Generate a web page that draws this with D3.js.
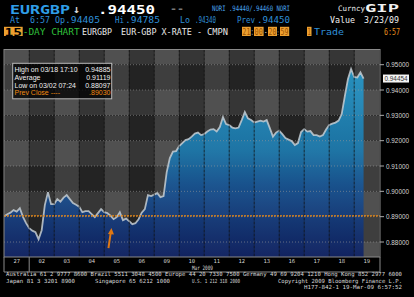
<!DOCTYPE html>
<html>
<head>
<meta charset="utf-8">
<script src="https://cdn.jsdelivr.net/npm/d3@7"></script>
<style>
  body { margin: 0; background: #000; }
  svg { display: block; }
  text { font-family: "Liberation Sans", Arial, sans-serif; }
  text.mono { font-family: "DejaVu Sans Mono", monospace; }
</style>
</head>
<body>
<div id="chart"></div>
<script>
// trading days shown on the 15-day chart
const days = ["27", "02", "03", "04", "05", "06", "09", "10", "11", "12", "13", "16", "17", "18", "19"];
const samplesPerDay = 8;
// EUR-GBP price, 8 samples per trading day
const prices = [
  0.89020, 0.89099, 0.89158, 0.89257, 0.89198, 0.89336, 0.88992, 0.88743,
  0.88545, 0.88447, 0.88387, 0.88110, 0.88466, 0.89455, 0.89968, 0.89494,
  0.89494, 0.89692, 0.89593, 0.89751, 0.89850, 0.89692, 0.89534, 0.89474,
  0.89395, 0.89178, 0.89217, 0.89217, 0.89099, 0.88980, 0.89138, 0.89296,
  0.89178, 0.89138, 0.89040, 0.88901, 0.88980, 0.89178, 0.88862, 0.88921,
  0.88822, 0.88704, 0.88743, 0.88901, 0.89158, 0.89296, 0.89850, 0.89810,
  0.89870, 0.89929, 0.89771, 0.89810, 0.90759, 0.91312, 0.91569, 0.91589,
  0.91787, 0.91905, 0.92024, 0.92063, 0.92162, 0.92281, 0.92320, 0.92221,
  0.92261, 0.92359, 0.92439, 0.92458, 0.92360, 0.92538, 0.92933, 0.92656,
  0.92617, 0.92518, 0.92486, 0.92518, 0.92814, 0.93130, 0.92881, 0.92814,
  0.92715, 0.92755, 0.92794, 0.92755, 0.92814, 0.92498, 0.92162, 0.92320,
  0.92399, 0.92261, 0.92103, 0.92043, 0.91984, 0.91826, 0.91905, 0.92340,
  0.92458, 0.92359, 0.92379, 0.92221, 0.92221, 0.92162, 0.92221, 0.92439,
  0.92617, 0.92676, 0.92715, 0.92794, 0.93051, 0.93763, 0.94435, 0.94830,
  0.94514, 0.94494, 0.94700, 0.94454
];
const yTicks = [0.95, 0.94, 0.93, 0.92, 0.91, 0.90, 0.89, 0.88];
const prevClose = 0.8903;
const lastPrice = 0.94454;
const statLabels = ["High on 03/18 17:10", "Average", "Low on 03/02 07:24", "Prev Close ----"];
const statValues = ["0.94885", "0.91119", "0.88097", ".89030"];
const arrowMark = [4.27, 0.8855];   // [day offset, price] of the orange note arrow
const monthLabel = "Mar 2009";

const W = 414, H = 297;
const plot = {left: 4, right: 380, top: 49.5, bottom: 257};

const svg = d3.select("#chart").append("svg")
  .attr("width", W).attr("height", H)
  .style("background", "#000");

const x = d3.scaleLinear().domain([0, days.length]).range([4.2, 379.2]);
const y = d3.scaleLinear().domain([0.88, 0.95]).range([242, 64.7]);

// ---- header rows
let hdr = [
  {t: "EURGBP", x: 10, y: 13.5, s: 12.5, c: "#2f9ee8", b: 1, w: 60},
  {t: "\u2193", x: 73, y: 13, s: 11, c: "#d8d8d8", b: 1, w: 7},
  {t: ".94450", x: 98, y: 13.5, s: 12.5, c: "#ffffff", b: 1, w: 57},
  {t: "--", x: 170, y: 12, s: 10, c: "#777", b: 1, w: 14},
  {t: "NORI .94440/.94460 NORI", x: 212, y: 11, s: 7.5, c: "#4aa6ee", b: 0, w: 78},
  {t: "Curncy", x: 338, y: 11, s: 7.5, c: "#f0f0f0", b: 0, w: 27},
  {t: "GIP", x: 365, y: 12, s: 11, c: "#f0f0f0", b: 1, w: 34},
  {t: "At", x: 10, y: 23, s: 8, c: "#2f8fd8", w: 10},
  {t: "6:57", x: 30, y: 23, s: 8, c: "#2f8fd8", w: 20},
  {t: "Op", x: 55, y: 23, s: 8, c: "#2f8fd8", w: 10},
  {t: ".94405", x: 65, y: 23, s: 8, c: "#2f8fd8", w: 35},
  {t: "Hi", x: 115, y: 23, s: 8, c: "#2f8fd8", w: 9},
  {t: ".94785", x: 125, y: 23, s: 8, c: "#2f8fd8", w: 35},
  {t: "Lo", x: 180, y: 23, s: 8, c: "#2f8fd8", w: 10},
  {t: ".94340", x: 195, y: 23, s: 8, c: "#2f8fd8", w: 21},
  {t: "Prev", x: 237, y: 23, s: 8, c: "#2f8fd8", w: 18},
  {t: ".94450", x: 257, y: 23, s: 8, c: "#2f8fd8", w: 33},
  {t: "Value", x: 330, y: 23, s: 8, c: "#f0f0f0", w: 25},
  {t: "3/23/09", x: 364, y: 23, s: 8, c: "#f0f0f0", w: 35},
  {t: "-DAY CHART", x: 22.7, y: 34.5, s: 8, c: "#2fbf3a", w: 57},
  {t: "EURGBP", x: 82, y: 34.5, s: 8, c: "#e8e8e8", w: 30},
  {t: "EUR-GBP X-RATE -", x: 121, y: 34.5, s: 8, c: "#e8e8e8", w: 81},
  {t: "CMPN", x: 207, y: 34.5, s: 8, c: "#e8e8e8", w: 21},
  {t: ":", x: 251.2, y: 34.5, s: 8, c: "#e8e8e8", w: 2},
  {t: "-", x: 264.3, y: 34.5, s: 8, c: "#e8e8e8", w: 3},
  {t: ":", x: 277.2, y: 34.5, s: 7, c: "#e8e8e8", w: 1.6},
  {t: "Trade", x: 314, y: 34.5, s: 8, c: "#2f8fd8", w: 30},
  {t: "6:57", x: 384, y: 34.5, s: 8, c: "#e8901e", w: 16}
];
// orange boxed fields
let boxes = [
  {t: "15", x: 4, w: 18.7, s: 11, b: 1, c: "#000"},
  {t: "21", x: 242, w: 8.8, s: 8, c: "#9a5200"},
  {t: "00", x: 254, w: 9.6, s: 8, c: "#9a5200"},
  {t: "20", x: 268, w: 9, s: 8, c: "#9a5200"},
  {t: "59", x: 280, w: 9.2, s: 8, c: "#9a5200"},
  {t: "1", x: 307, w: 4.5, s: 8, c: "#9a5200"}
];

let header = svg.append("g");
header.selectAll("rect.box").data(boxes).join("rect")
  .attr("x", d => d.x).attr("y", 26.8)
  .attr("width", d => d.w).attr("height", 9.2)
  .attr("fill", "#eda030");
header.selectAll("text.box").data(boxes).join("text")
  .attr("class", "mono")
  .attr("x", d => d.x + 0.6).attr("y", d => d.b ? 35.8 : 34.5)
  .attr("font-size", d => d.s).attr("font-weight", d => d.b ? "bold" : "normal")
  .attr("fill", d => d.c)
  .attr("textLength", d => d.w - 1.2).attr("lengthAdjust", "spacingAndGlyphs")
  .text(d => d.t);
header.selectAll("text.hdr").data(hdr).join("text")
  .attr("class", "mono")
  .attr("x", d => d.x).attr("y", d => d.y)
  .attr("font-size", d => d.s).attr("font-weight", d => d.b ? "bold" : "normal")
  .attr("fill", d => d.c)
  .attr("textLength", d => d.w).attr("lengthAdjust", "spacingAndGlyphs")
  .text(d => d.t);

// ---- checkerboard background (day columns x price bands)
let bandEdges = [plot.top].concat(yTicks.map(y)).concat([plot.bottom]);
let cells = [];
days.forEach((d, i) => {
  for (let r = 0; r < bandEdges.length - 1; r++) {
    cells.push({i: i, r: r, y0: bandEdges[r], y1: bandEdges[r + 1]});
  }
});
let shade = function (c) {
  let lightCol = c.i % 2 === 0, lightRow = c.r % 2 === 0;
  if (lightCol) return lightRow ? "#505050" : "#3e3e3e";
  return lightRow ? "#363636" : "#232323";
};
let bg = svg.append("g");
bg.selectAll("rect").data(cells).join("rect")
  .attr("x", c => Math.max(plot.left, x(c.i)))
  .attr("y", c => c.y0)
  .attr("width", c => Math.min(plot.right, x(c.i + 1)) - Math.max(plot.left, x(c.i)))
  .attr("height", c => c.y1 - c.y0)
  .attr("fill", shade);

// ---- price area
let defs = svg.append("defs");
let grad = defs.append("linearGradient").attr("id", "fill")
  .attr("gradientUnits", "userSpaceOnUse")
  .attr("x1", 0).attr("x2", 0).attr("y1", y(0.95)).attr("y2", plot.bottom);
[[0, "#28a4d8"], [0.45, "#1a7eb6"], [0.62, "#175a9e"], [0.8, "#123c82"], [1, "#0b1f66"]]
  .forEach(s => grad.append("stop").attr("offset", s[0]).attr("stop-color", s[1]));
defs.append("clipPath").attr("id", "clip").append("rect")
  .attr("x", plot.left).attr("y", plot.top)
  .attr("width", plot.right - plot.left).attr("height", plot.bottom - plot.top);

let tOf = (d, i) => x(i / samplesPerDay);
let area = d3.area().x(tOf).y0(plot.bottom).y1(d => y(d));
let line = d3.line().x(tOf).y(d => y(d));

let chart = svg.append("g").attr("clip-path", "url(#clip)");
chart.append("path").datum(prices)
  .attr("d", area).attr("fill", "url(#fill)").attr("fill-opacity", 0.86);
chart.append("path").datum(prices)
  .attr("d", line).attr("fill", "none")
  .attr("stroke", "#c4ccd2").attr("stroke-width", 1.8).attr("stroke-opacity", 0.85);

// day dividers
chart.selectAll("line.day").data(d3.range(1, days.length)).join("line")
  .attr("x1", x).attr("x2", x).attr("y1", plot.top).attr("y2", plot.bottom)
  .attr("stroke", "#111").attr("stroke-opacity", 0.75)
  .attr("stroke-dasharray", "3,1");

// horizontal grid
chart.selectAll("line.grid").data(yTicks).join("line")
  .attr("x1", plot.left).attr("x2", plot.right + 3)
  .attr("y1", y).attr("y2", y)
  .attr("stroke", "#9a9a9a").attr("stroke-opacity", 0.6)
  .attr("stroke-dasharray", "1,2");

// previous close
chart.append("line")
  .attr("x1", plot.left).attr("x2", plot.right)
  .attr("y1", y(prevClose)).attr("y2", y(prevClose))
  .attr("stroke", "#f08a10").attr("stroke-width", 1.4)
  .attr("stroke-dasharray", "2,1");

// note arrow
let ax = x(arrowMark[0]), ay = y(arrowMark[1]);
chart.append("path")
  .attr("d", `M${ax - 2.5},${ay + 20} L${ax},${ay + 3}`)
  .attr("stroke", "#e07812").attr("stroke-width", 2).attr("fill", "none");
chart.append("path")
  .attr("d", `M${ax + 0.5},${ay} L${ax - 3},${ay + 6} L${ax + 3},${ay + 6.5} Z`)
  .attr("fill", "#e07812");

// ---- frame
let frame = svg.append("g").attr("fill", "none").attr("stroke", "#8a8a8a");
frame.append("rect")
  .attr("x", plot.left).attr("y", plot.top)
  .attr("width", plot.right - plot.left).attr("height", plot.bottom - plot.top);
frame.append("path")
  .attr("d", `M${plot.left},${plot.bottom} V272 H${plot.right} V${plot.bottom}`);
frame.append("line")
  .attr("x1", x(1)).attr("x2", x(1)).attr("y1", plot.bottom).attr("y2", 272);

// ---- right axis
let axis = svg.append("g");
axis.selectAll("line").data(yTicks).join("line")
  .attr("x1", plot.right).attr("x2", plot.right + 4)
  .attr("y1", y).attr("y2", y).attr("stroke", "#aaa");
axis.selectAll("text").data(yTicks).join("text")
  .attr("x", 386).attr("y", d => y(d) + 2.5)
  .attr("font-size", 7).attr("fill", "#d4d4d4")
  .attr("textLength", 23).attr("lengthAdjust", "spacingAndGlyphs")
  .text(d => d.toFixed(5));
axis.append("rect")
  .attr("x", 383).attr("y", y(lastPrice) - 4).attr("width", 26).attr("height", 8)
  .attr("fill", "#f4f4f4");
axis.append("text")
  .attr("x", 384.5).attr("y", y(lastPrice) + 2.5)
  .attr("font-size", 7).attr("fill", "#333")
  .attr("textLength", 23).attr("lengthAdjust", "spacingAndGlyphs")
  .text(lastPrice.toFixed(5));

// ---- day labels
svg.append("g").selectAll("text").data(days).join("text")
  .attr("class", "mono")
  .attr("x", (d, i) => x(i + 0.5)).attr("y", 263)
  .attr("text-anchor", "middle")
  .attr("font-size", 5.5).attr("fill", "#d0d0d0")
  .text(d => d);
svg.append("text").attr("class", "mono")
  .attr("x", 192).attr("y", 270)
  .attr("font-size", 6).attr("fill", "#d8d8d8")
  .attr("textLength", 21).attr("lengthAdjust", "spacingAndGlyphs")
  .text(monthLabel);

// ---- stats box
let box = svg.append("g");
box.append("rect")
  .attr("x", 12.7).attr("y", 63.3).attr("width", 99).attr("height", 35.5)
  .attr("fill", "#000").attr("fill-opacity", 0.75)
  .attr("stroke", "#b8b8b8").attr("stroke-width", 1);
box.selectAll("text.lbl").data(statLabels).join("text")
  .attr("x", 14.5).attr("y", (d, i) => 72.3 + i * 7.6)
  .attr("font-size", 7)
  .attr("fill", (d, i) => i === 3 ? "#f08a10" : "#f0f0f0")
  .text(d => d);
box.selectAll("text.val").data(statValues).join("text")
  .attr("x", 110.5).attr("y", (d, i) => 72.3 + i * 7.6)
  .attr("text-anchor", "end")
  .attr("font-size", 7)
  .attr("fill", (d, i) => i === 3 ? "#f08a10" : "#f0f0f0")
  .text(d => d);

// ---- footer
let foot = [
  {t: "Australia 61 2 9777 8600 Brazil 5511 3048 4500 Europe 44 20 7330 7500 Germany 49 69 9204 1210 Hong Kong 852 2977 6000", x: 6, y: 276.3, w: 396},
  {t: "Japan 81 3 3201 8900", x: 6, y: 283, w: 69},
  {t: "Singapore 65 6212 1000", x: 95, y: 283, w: 75},
  {t: "U.S. 1 212 318 2000", x: 192, y: 283, w: 48},
  {t: "Copyright 2009 Bloomberg Finance L.P.", x: 278, y: 283, w: 124},
  {t: "H177-842-1 19-Mar-09  6:57:52", x: 304, y: 289, w: 98}
];
svg.append("g").selectAll("text").data(foot).join("text")
  .attr("class", "mono")
  .attr("x", d => d.x).attr("y", d => d.y)
  .attr("font-size", 5.6).attr("fill", "#d8d8d8")
  .attr("textLength", d => d.w).attr("lengthAdjust", "spacingAndGlyphs")
  .text(d => d.t);
</script>
</body>
</html>
